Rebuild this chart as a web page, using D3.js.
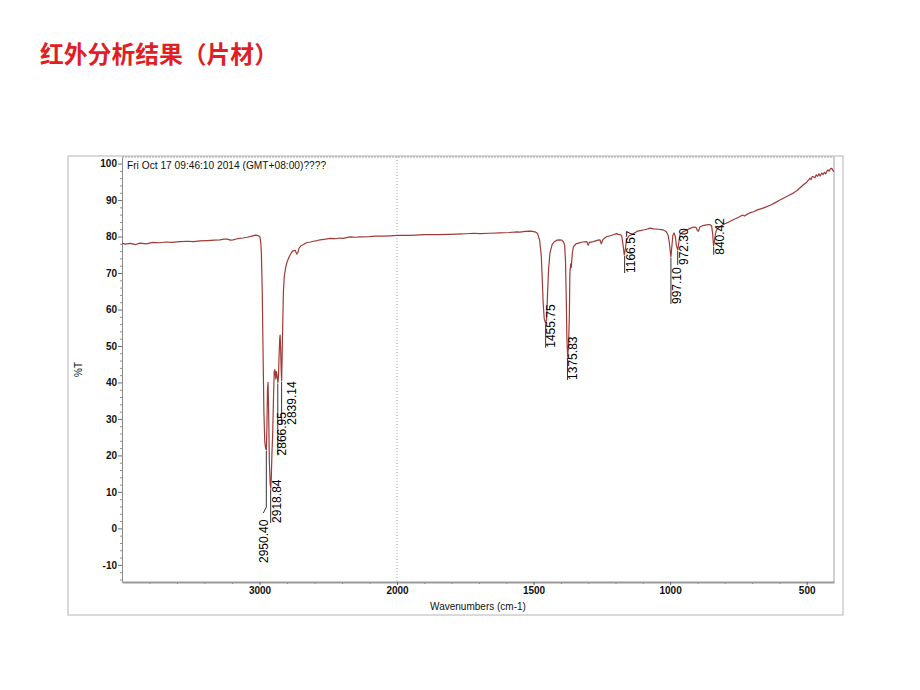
<!DOCTYPE html>
<html>
<head>
<meta charset="utf-8">
<script src="https://cdn.jsdelivr.net/npm/d3@7/dist/d3.min.js"></script>
<style>
  html, body { margin: 0; padding: 0; background: #fff; }
  svg { display: block; }
</style>
</head>
<body>
<script>
// ---- Data ----
const wavenumbers = [
  4000, 3978, 3940, 3900, 3869, 3820, 3780, 3724, 3680, 3640, 3578, 3520, 3480, 3433, 3380, 3330,
  3287, 3260, 3236, 3210, 3193, 3160, 3120, 3091, 3055, 3030, 3018, 3005, 2996, 2990, 2986, 2980,
  2974, 2968, 2962, 2956, 2950, 2946, 2942, 2938, 2934, 2928, 2922, 2918, 2914, 2910, 2904, 2898,
  2893, 2888, 2882, 2878, 2874, 2870, 2866, 2862, 2858, 2853, 2850, 2846, 2842, 2839, 2835, 2830,
  2826, 2820, 2810, 2800, 2780, 2760, 2740, 2730, 2722, 2712, 2700, 2680, 2660, 2630, 2609, 2580,
  2560, 2520, 2487, 2450, 2420, 2393, 2342, 2300, 2269, 2200, 2160, 2100, 2050, 2000,
  1950, 1900, 1850, 1806, 1760, 1720, 1696, 1660, 1623, 1590, 1560, 1550, 1530, 1510, 1495, 1485,
  1478, 1472, 1468, 1465, 1461, 1456, 1452, 1449, 1445, 1440, 1432, 1425, 1415, 1405, 1397, 1390,
  1386, 1383, 1380, 1378, 1375, 1372, 1369, 1367, 1364, 1362, 1358, 1354, 1345, 1336, 1320, 1305,
  1300, 1295, 1281, 1265, 1257, 1252, 1246, 1232, 1220, 1208, 1196, 1190, 1182, 1177, 1172, 1168,
  1164, 1160, 1150, 1141, 1130, 1122, 1110, 1098, 1086, 1074, 1060, 1043, 1032, 1025, 1015, 1008,
  1003, 999, 997, 994, 990, 986, 981, 977, 972, 968, 964, 955, 939, 925, 915, 905,
  900, 896, 891, 880, 866, 855, 848, 844, 841, 838, 834, 830, 820, 810, 800, 790,
  780, 769, 755, 744, 735, 728, 720, 708, 695, 680, 660, 646, 630, 615, 598, 580,
  565, 549, 535, 522, 512, 500, 492, 488, 484, 480, 476, 470, 465, 460, 455, 451,
  445, 440, 435, 430, 427, 422, 418, 413, 408, 404, 400
];
const transmittance = [
  78.2, 77.9, 78.1, 77.8, 78.2, 78.0, 78.4, 78.3, 78.5, 78.4, 78.6, 78.7, 78.6, 78.8, 78.9, 79.0,
  79.1, 79.3, 79.3, 79.0, 79.1, 79.4, 79.6, 79.8, 80.1, 80.4, 80.3, 80.2, 79.8, 78.0, 75.0, 65.0,
  48.0, 32.0, 24.0, 22.0, 21.5, 28.0, 38.0, 40.0, 33.0, 18.0, 12.0, 11.0, 14.0, 20.0, 26.0, 36.0,
  43.0, 43.5, 41.0, 43.0, 42.5, 41.0, 40.0, 41.5, 47.0, 52.0, 53.0, 49.0, 43.0, 40.5, 48.0, 58.0,
  65.0, 69.0, 71.5, 73.0, 74.8, 76.0, 76.2, 75.2, 75.5, 76.8, 77.4, 77.8, 78.3, 78.5, 78.7, 78.9,
  79.1, 79.3, 79.5, 79.4, 79.6, 79.5, 79.9, 79.8, 79.9, 80.0, 80.1, 80.1, 80.2, 80.3,
  80.3, 80.5, 80.5, 80.6, 80.7, 80.9, 80.8, 80.9, 81.0, 81.1, 81.3, 81.2, 81.4, 81.5, 81.3, 80.8,
  79.0, 75.0, 68.0, 62.0, 57.5, 56.2, 57.5, 64.0, 71.0, 75.5, 77.8, 78.5, 79.0, 79.1, 79.0, 78.5,
  77.5, 73.0, 62.0, 52.0, 47.0, 50.0, 58.0, 70.0, 72.5, 71.5, 75.5, 77.2, 78.0, 78.2, 78.5, 78.6,
  77.6, 78.4, 78.6, 79.0, 79.1, 78.0, 79.2, 80.0, 80.2, 80.5, 80.8, 80.6, 80.5, 80.1, 77.5, 75.0,
  76.5, 79.0, 80.2, 80.5, 81.0, 81.4, 81.6, 81.8, 82.0, 82.3, 82.1, 82.0, 81.9, 81.8, 81.4, 80.5,
  78.5, 75.5, 74.5, 77.0, 80.3, 81.0, 80.0, 77.5, 76.3, 78.5, 80.5, 81.2, 81.8, 82.3, 82.6, 82.5,
  81.6, 81.5, 82.6, 83.0, 83.2, 83.3, 82.9, 80.5, 77.5, 78.5, 80.8, 81.8, 82.6, 83.0, 83.5, 83.8,
  84.2, 84.6, 85.1, 85.5, 85.9, 85.6, 86.0, 86.5, 86.8, 87.3, 87.8, 88.2, 88.7, 89.3, 90.0, 90.7,
  91.3, 91.9, 92.6, 93.5, 94.2, 94.9, 95.6, 96.0, 95.6, 96.4, 96.4, 96.1, 96.9, 96.5, 97.2, 96.6,
  97.4, 97.0, 97.6, 97.2, 97.8, 98.3, 97.9, 98.6, 98.7, 98.1, 97.8
];

const xTickValues = [3000, 2000, 1500, 1000, 500];
const xTickLabels = ["3000", "2000", "1500", "1000", "500"];
const yTickValues = [-10, 0, 10, 20, 30, 40, 50, 60, 70, 80, 90, 100];
const yTickLabels = ["-10", "0", "10", "20", "30", "40", "50", "60", "70", "80", "90", "100"];

// Peak annotations
const peakWn     = [2950.40, 2918.84, 2866.95, 2839.14, 1455.75, 1375.83, 1166.57, 997.10, 972.30, 840.42];
const peakText   = ["2950.40", "2918.84", "2866.95", "2839.14", "1455.75", "1375.83", "1166.57", "997.10", "972.30", "840.42"];
const peakT      = [21.5, 11.0, 40.0, 40.5, 56.2, 47.0, 75.0, 74.5, 76.3, 77.5];
const labelEndT  = [-9.5, 1.5, 20.0, 28.4, 49.5, 40.7, 70.0, 61.5, 72.2, 75.0];

const titleText = "红外分析结果（片材）";
const stampText = "Fri Oct 17 09:46:10 2014 (GMT+08:00)????";
const xTitle = "Wavenumbers (cm-1)";
const yTitle = "%T";

// ---- Layout ----
const W = 920, H = 690;
const L = 122, R = 834, T = 157, B = 582;

const svg = d3.select("body").append("svg").attr("width", W).attr("height", H)
  .style("font-family", "'Liberation Sans', Arial, sans-serif");
svg.append("rect").attr("width", W).attr("height", H).attr("fill", "#fff");

// Title
svg.append("text").attr("x", 40).attr("y", 63)
  .attr("font-family", "'Noto Sans CJK SC', sans-serif")
  .attr("font-size", 23.8).attr("font-weight", "bold").attr("fill", "#e01e24")
  .text(titleText);

// Outer frame
svg.append("rect").attr("x", 68).attr("y", 156).attr("width", 775).attr("height", 459)
  .attr("fill", "none").attr("stroke", "#b4b4b4").attr("stroke-width", 1);

const x = d3.scaleLinear().domain([4000, 2000, 400]).range([L, 397, R]);
const y = d3.scaleLinear().domain([-14.7, 101.8]).range([B, T]);

// Plot border (top & right)
svg.append("line").attr("x1", L).attr("x2", R).attr("y1", T).attr("y2", T)
  .attr("stroke", "#a0a0a0").attr("stroke-dasharray", "2,1");
svg.append("line").attr("x1", R).attr("x2", R).attr("y1", T).attr("y2", B)
  .attr("stroke", "#a0a0a0");

// Dashed split line at 2000
svg.append("line").attr("x1", x(2000)).attr("x2", x(2000)).attr("y1", T).attr("y2", B)
  .attr("stroke", "#a8a8a8").attr("stroke-dasharray", "1,2");

// Y axis minor ticks
const yMinor = d3.range(-14, 102, 2).filter(v => v % 10 !== 0);
svg.append("g").attr("transform", `translate(${L},0)`)
  .call(d3.axisLeft(y).tickValues(yMinor).tickSize(2).tickFormat(""))
  .call(g => g.select(".domain").remove())
  .call(g => g.selectAll("line").attr("stroke", "#909090"));

// Y axis
const yAxis = svg.append("g").attr("transform", `translate(${L},0)`)
  .call(d3.axisLeft(y).tickValues(yTickValues).tickSize(4).tickPadding(1).tickSizeOuter(0)
    .tickFormat((d, i) => yTickLabels[i]));
yAxis.select(".domain").attr("stroke", "#8a8a8a");
yAxis.selectAll("line").attr("stroke", "#707070");
yAxis.selectAll("text").attr("font-size", 10).attr("font-weight", "bold")
  .attr("fill", "#111").attr("font-family", "'Liberation Sans', Arial, sans-serif");

// X axis minor ticks
const xMinor = d3.range(3800, 2000, -200).concat(d3.range(1900, 400, -100)).filter(v => !xTickValues.includes(v));
svg.append("g").attr("transform", `translate(0,${B})`)
  .call(d3.axisBottom(x).tickValues(xMinor).tickSize(2).tickFormat(""))
  .call(g => g.select(".domain").remove())
  .call(g => g.selectAll("line").attr("stroke", "#808080"));

// X axis
const xAxis = svg.append("g").attr("transform", `translate(0,${B})`)
  .call(d3.axisBottom(x).tickValues(xTickValues).tickSize(3).tickPadding(2).tickSizeOuter(0)
    .tickFormat((d, i) => xTickLabels[i]));
xAxis.select(".domain").attr("stroke", "#9a9a9a").attr("stroke-width", 2);
xAxis.selectAll("line").attr("stroke", "#606060");
xAxis.selectAll("text").attr("font-size", 10).attr("font-weight", "bold")
  .attr("fill", "#111").attr("font-family", "'Liberation Sans', Arial, sans-serif");

// Axis titles
svg.append("text").attr("x", (L + R) / 2).attr("y", 610).attr("text-anchor", "middle")
  .attr("font-size", 10).attr("fill", "#111").text(xTitle);
svg.append("text").attr("transform", `translate(82,${(T + B) / 2}) rotate(-90)`)
  .attr("text-anchor", "middle").attr("font-size", 10).attr("fill", "#111").text(yTitle);

// Timestamp
svg.append("text").attr("x", 127).attr("y", 169).attr("font-size", 10.2).attr("fill", "#111")
  .text(stampText);

// Spectrum
const spec = wavenumbers.map((w, i) => ({ w, t: transmittance[i] }));
svg.append("path").datum(spec)
  .attr("fill", "none").attr("stroke", "#a03a36").attr("stroke-width", 1.2)
  .attr("stroke-linejoin", "round")
  .attr("d", d3.line().x(d => x(d.w)).y(d => y(d.t)));

// Peak labels
const lab = svg.append("g");
const labelDx = [-7, 1.5, 0, 6, 1, 1, 1.5, 1, 1.5, 1.5];
peakWn.forEach((w, i) => {
  const xp = x(w);
  const yp = y(peakT[i]);
  const yEnd = y(labelEndT[i]);
  const dx = labelDx[i];
  if (dx < 0) {
    // leader comes down then bends to top of the label below the peak
    const textTop = yEnd - 50;
    lab.append("path").attr("fill", "none").attr("stroke", "#000").attr("stroke-width", 0.8)
      .attr("d", `M${xp},${yp + 1}L${xp},${textTop - 6}L${xp - 3},${textTop}`);
  } else {
    lab.append("line").attr("x1", xp).attr("x2", xp).attr("y1", yp + 1).attr("y2", yEnd)
      .attr("stroke", "#000").attr("stroke-width", 0.8);
  }
  lab.append("text").attr("transform", `translate(${xp + dx + 8.6},${yEnd}) rotate(-90)`)
    .attr("font-size", 12).attr("fill", "#000").text(peakText[i]);
});
</script>
</body>
</html>
